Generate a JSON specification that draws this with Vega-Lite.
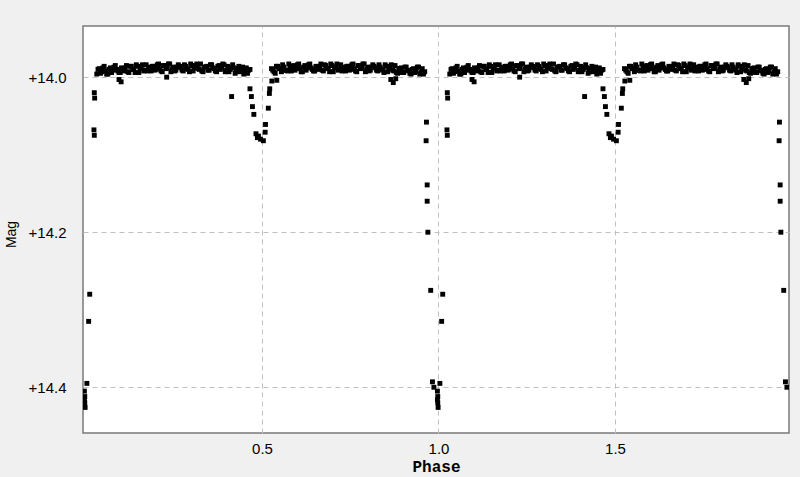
{
 "$schema": "https://vega.github.io/schema/vega-lite/v6.json",
 "width": 706, "height": 407,
 "autosize": {"type": "none"},
 "padding": {"left": 83, "top": 26, "right": 11, "bottom": 44},
 "background": "#f0f0f0",
 "config": {"view": {"fill": "white", "stroke": "#7a7a7a", "strokeWidth": 1.5}},
 "data": {"values": [
{"phase":0.032,"mag":13.996},{"phase":0.039,"mag":13.989},{"phase":0.046,"mag":13.993},{"phase":0.053,"mag":13.986},{"phase":0.060,"mag":13.996},{"phase":0.067,"mag":13.990},{"phase":0.074,"mag":13.994},{"phase":0.081,"mag":13.987},{"phase":0.088,"mag":13.990},{"phase":0.095,"mag":13.994},{"phase":0.102,"mag":13.988},{"phase":0.109,"mag":13.992},{"phase":0.116,"mag":13.985},{"phase":0.123,"mag":13.994},{"phase":0.130,"mag":13.986},{"phase":0.137,"mag":13.990},{"phase":0.144,"mag":13.984},{"phase":0.151,"mag":13.994},{"phase":0.158,"mag":13.988},{"phase":0.165,"mag":13.992},{"phase":0.172,"mag":13.984},{"phase":0.179,"mag":13.988},{"phase":0.186,"mag":13.992},{"phase":0.193,"mag":13.986},{"phase":0.200,"mag":13.990},{"phase":0.207,"mag":13.983},{"phase":0.214,"mag":13.992},{"phase":0.221,"mag":13.985},{"phase":0.228,"mag":13.989},{"phase":0.235,"mag":13.983},{"phase":0.242,"mag":13.993},{"phase":0.249,"mag":13.987},{"phase":0.256,"mag":13.991},{"phase":0.263,"mag":13.984},{"phase":0.270,"mag":13.988},{"phase":0.277,"mag":13.992},{"phase":0.284,"mag":13.986},{"phase":0.291,"mag":13.990},{"phase":0.298,"mag":13.983},{"phase":0.305,"mag":13.992},{"phase":0.312,"mag":13.985},{"phase":0.319,"mag":13.989},{"phase":0.326,"mag":13.983},{"phase":0.333,"mag":13.993},{"phase":0.340,"mag":13.987},{"phase":0.347,"mag":13.991},{"phase":0.354,"mag":13.984},{"phase":0.361,"mag":13.988},{"phase":0.368,"mag":13.992},{"phase":0.375,"mag":13.986},{"phase":0.382,"mag":13.990},{"phase":0.389,"mag":13.983},{"phase":0.396,"mag":13.993},{"phase":0.403,"mag":13.986},{"phase":0.410,"mag":13.990},{"phase":0.417,"mag":13.984},{"phase":0.424,"mag":13.995},{"phase":0.431,"mag":13.989},{"phase":0.438,"mag":13.993},{"phase":0.445,"mag":13.987},{"phase":0.452,"mag":13.991},{"phase":0.459,"mag":13.995},{"phase":0.466,"mag":13.990},
{"phase":0.0355,"mag":13.990},{"phase":0.0425,"mag":13.995},{"phase":0.0495,"mag":13.988},{"phase":0.0565,"mag":13.992},{"phase":0.0635,"mag":13.996},{"phase":0.0705,"mag":13.988},{"phase":0.0775,"mag":13.991},{"phase":0.0845,"mag":13.985},{"phase":0.0915,"mag":13.992},{"phase":0.0985,"mag":13.994},{"phase":0.1055,"mag":13.989},{"phase":0.1125,"mag":13.988},{"phase":0.1195,"mag":13.993},{"phase":0.1265,"mag":13.986},{"phase":0.1335,"mag":13.990},{"phase":0.1405,"mag":13.994},{"phase":0.1475,"mag":13.986},{"phase":0.1545,"mag":13.989},{"phase":0.1615,"mag":13.984},{"phase":0.1685,"mag":13.991},{"phase":0.1755,"mag":13.992},{"phase":0.1825,"mag":13.987},{"phase":0.1895,"mag":13.986},{"phase":0.1965,"mag":13.991},{"phase":0.2035,"mag":13.984},{"phase":0.2105,"mag":13.989},{"phase":0.2175,"mag":13.993},{"phase":0.2245,"mag":13.985},{"phase":0.2315,"mag":13.988},{"phase":0.2385,"mag":13.983},{"phase":0.2455,"mag":13.990},{"phase":0.2525,"mag":13.992},{"phase":0.2595,"mag":13.987},{"phase":0.2665,"mag":13.986},{"phase":0.2735,"mag":13.991},{"phase":0.2805,"mag":13.984},{"phase":0.2875,"mag":13.989},{"phase":0.2945,"mag":13.993},{"phase":0.3015,"mag":13.985},{"phase":0.3085,"mag":13.988},{"phase":0.3155,"mag":13.983},{"phase":0.3225,"mag":13.990},{"phase":0.3295,"mag":13.992},{"phase":0.3365,"mag":13.987},{"phase":0.3435,"mag":13.986},{"phase":0.3505,"mag":13.991},{"phase":0.3575,"mag":13.984},{"phase":0.3645,"mag":13.989},{"phase":0.3715,"mag":13.993},{"phase":0.3785,"mag":13.985},{"phase":0.3855,"mag":13.988},{"phase":0.3925,"mag":13.984},{"phase":0.3995,"mag":13.991},{"phase":0.4065,"mag":13.993},{"phase":0.4135,"mag":13.988},{"phase":0.4205,"mag":13.988},{"phase":0.4275,"mag":13.993},{"phase":0.4345,"mag":13.986},{"phase":0.4415,"mag":13.991},{"phase":0.4485,"mag":13.996},{"phase":0.4555,"mag":13.988},{"phase":0.4625,"mag":13.991},
{"phase":0.527,"mag":13.989},{"phase":0.534,"mag":13.993},{"phase":0.541,"mag":13.986},{"phase":0.548,"mag":13.989},{"phase":0.555,"mag":13.993},{"phase":0.562,"mag":13.987},{"phase":0.569,"mag":13.991},{"phase":0.576,"mag":13.983},{"phase":0.583,"mag":13.992},{"phase":0.590,"mag":13.985},{"phase":0.597,"mag":13.989},{"phase":0.604,"mag":13.983},{"phase":0.611,"mag":13.993},{"phase":0.618,"mag":13.987},{"phase":0.625,"mag":13.991},{"phase":0.632,"mag":13.984},{"phase":0.639,"mag":13.988},{"phase":0.646,"mag":13.992},{"phase":0.653,"mag":13.986},{"phase":0.660,"mag":13.990},{"phase":0.667,"mag":13.983},{"phase":0.674,"mag":13.992},{"phase":0.681,"mag":13.985},{"phase":0.688,"mag":13.989},{"phase":0.695,"mag":13.983},{"phase":0.702,"mag":13.993},{"phase":0.709,"mag":13.987},{"phase":0.716,"mag":13.991},{"phase":0.723,"mag":13.984},{"phase":0.730,"mag":13.988},{"phase":0.737,"mag":13.992},{"phase":0.744,"mag":13.986},{"phase":0.751,"mag":13.990},{"phase":0.758,"mag":13.983},{"phase":0.765,"mag":13.992},{"phase":0.772,"mag":13.985},{"phase":0.779,"mag":13.989},{"phase":0.786,"mag":13.983},{"phase":0.793,"mag":13.993},{"phase":0.800,"mag":13.987},{"phase":0.807,"mag":13.991},{"phase":0.814,"mag":13.984},{"phase":0.821,"mag":13.988},{"phase":0.828,"mag":13.992},{"phase":0.835,"mag":13.987},{"phase":0.842,"mag":13.991},{"phase":0.849,"mag":13.984},{"phase":0.856,"mag":13.993},{"phase":0.863,"mag":13.986},{"phase":0.870,"mag":13.991},{"phase":0.877,"mag":13.985},{"phase":0.884,"mag":13.995},{"phase":0.891,"mag":13.989},{"phase":0.898,"mag":13.994},{"phase":0.905,"mag":13.987},{"phase":0.912,"mag":13.991},{"phase":0.919,"mag":13.995},{"phase":0.926,"mag":13.990},{"phase":0.933,"mag":13.994},{"phase":0.940,"mag":13.987},{"phase":0.947,"mag":13.996},{"phase":0.954,"mag":13.989},{"phase":0.961,"mag":13.993},
{"phase":0.5305,"mag":13.991},{"phase":0.5375,"mag":13.995},{"phase":0.5445,"mag":13.986},{"phase":0.5515,"mag":13.989},{"phase":0.5585,"mag":13.984},{"phase":0.5655,"mag":13.991},{"phase":0.5725,"mag":13.992},{"phase":0.5795,"mag":13.987},{"phase":0.5865,"mag":13.986},{"phase":0.5935,"mag":13.991},{"phase":0.6005,"mag":13.984},{"phase":0.6075,"mag":13.989},{"phase":0.6145,"mag":13.993},{"phase":0.6215,"mag":13.985},{"phase":0.6285,"mag":13.988},{"phase":0.6355,"mag":13.983},{"phase":0.6425,"mag":13.990},{"phase":0.6495,"mag":13.992},{"phase":0.6565,"mag":13.987},{"phase":0.6635,"mag":13.986},{"phase":0.6705,"mag":13.991},{"phase":0.6775,"mag":13.984},{"phase":0.6845,"mag":13.989},{"phase":0.6915,"mag":13.993},{"phase":0.6985,"mag":13.985},{"phase":0.7055,"mag":13.988},{"phase":0.7125,"mag":13.983},{"phase":0.7195,"mag":13.990},{"phase":0.7265,"mag":13.992},{"phase":0.7335,"mag":13.987},{"phase":0.7405,"mag":13.986},{"phase":0.7475,"mag":13.991},{"phase":0.7545,"mag":13.984},{"phase":0.7615,"mag":13.989},{"phase":0.7685,"mag":13.993},{"phase":0.7755,"mag":13.985},{"phase":0.7825,"mag":13.988},{"phase":0.7895,"mag":13.983},{"phase":0.7965,"mag":13.990},{"phase":0.8035,"mag":13.992},{"phase":0.8105,"mag":13.987},{"phase":0.8175,"mag":13.986},{"phase":0.8245,"mag":13.991},{"phase":0.8315,"mag":13.984},{"phase":0.8385,"mag":13.990},{"phase":0.8455,"mag":13.994},{"phase":0.8525,"mag":13.986},{"phase":0.8595,"mag":13.989},{"phase":0.8665,"mag":13.984},{"phase":0.8735,"mag":13.992},{"phase":0.8805,"mag":13.994},{"phase":0.8875,"mag":13.989},{"phase":0.8945,"mag":13.988},{"phase":0.9015,"mag":13.994},{"phase":0.9085,"mag":13.987},{"phase":0.9155,"mag":13.992},{"phase":0.9225,"mag":13.996},{"phase":0.9295,"mag":13.989},{"phase":0.9365,"mag":13.992},{"phase":0.9435,"mag":13.987},{"phase":0.9505,"mag":13.994},{"phase":0.9575,"mag":13.996},
{"phase":0.095,"mag":14.003},{"phase":0.101,"mag":14.006},{"phase":0.230,"mag":14.000},{"phase":0.414,"mag":14.025},{"phase":0.865,"mag":14.003},{"phase":0.872,"mag":14.007},{"phase":0.879,"mag":14.002},
{"phase":0.466,"mag":14.015},{"phase":0.470,"mag":14.025},{"phase":0.473,"mag":14.038},{"phase":0.477,"mag":14.048},{"phase":0.483,"mag":14.073},{"phase":0.487,"mag":14.078},{"phase":0.490,"mag":14.076},{"phase":0.496,"mag":14.080},{"phase":0.504,"mag":14.082},{"phase":0.509,"mag":14.071},{"phase":0.510,"mag":14.061},{"phase":0.518,"mag":14.040},{"phase":0.521,"mag":14.021},{"phase":0.522,"mag":14.015},{"phase":0.528,"mag":14.005},{"phase":0.542,"mag":14.004},
{"phase":0.965,"mag":14.082},{"phase":0.966,"mag":14.058},{"phase":0.968,"mag":14.139},{"phase":0.968,"mag":14.160},{"phase":0.970,"mag":14.200},{"phase":0.978,"mag":14.275},{"phase":0.983,"mag":14.393},{"phase":0.987,"mag":14.400},
{"phase":-0.003,"mag":14.405},{"phase":-0.002,"mag":14.412},{"phase":-0.002,"mag":14.420},{"phase":-0.001,"mag":14.426},{"phase":-0.003,"mag":14.416},
{"phase":0.004,"mag":14.395},{"phase":0.009,"mag":14.315},{"phase":0.012,"mag":14.280},{"phase":0.024,"mag":14.068},{"phase":0.025,"mag":14.075},{"phase":0.025,"mag":14.020},{"phase":0.026,"mag":14.027},
{"phase":1.032,"mag":13.996},{"phase":1.039,"mag":13.989},{"phase":1.046,"mag":13.993},{"phase":1.053,"mag":13.986},{"phase":1.060,"mag":13.996},{"phase":1.067,"mag":13.990},{"phase":1.074,"mag":13.994},{"phase":1.081,"mag":13.987},{"phase":1.088,"mag":13.990},{"phase":1.095,"mag":13.994},{"phase":1.102,"mag":13.988},{"phase":1.109,"mag":13.992},{"phase":1.116,"mag":13.985},{"phase":1.123,"mag":13.994},{"phase":1.130,"mag":13.986},{"phase":1.137,"mag":13.990},{"phase":1.144,"mag":13.984},{"phase":1.151,"mag":13.994},{"phase":1.158,"mag":13.988},{"phase":1.165,"mag":13.992},{"phase":1.172,"mag":13.984},{"phase":1.179,"mag":13.988},{"phase":1.186,"mag":13.992},{"phase":1.193,"mag":13.986},{"phase":1.200,"mag":13.990},{"phase":1.207,"mag":13.983},{"phase":1.214,"mag":13.992},{"phase":1.221,"mag":13.985},{"phase":1.228,"mag":13.989},{"phase":1.235,"mag":13.983},{"phase":1.242,"mag":13.993},{"phase":1.249,"mag":13.987},{"phase":1.256,"mag":13.991},{"phase":1.263,"mag":13.984},{"phase":1.270,"mag":13.988},{"phase":1.277,"mag":13.992},{"phase":1.284,"mag":13.986},{"phase":1.291,"mag":13.990},{"phase":1.298,"mag":13.983},{"phase":1.305,"mag":13.992},{"phase":1.312,"mag":13.985},{"phase":1.319,"mag":13.989},{"phase":1.326,"mag":13.983},{"phase":1.333,"mag":13.993},{"phase":1.340,"mag":13.987},{"phase":1.347,"mag":13.991},{"phase":1.354,"mag":13.984},{"phase":1.361,"mag":13.988},{"phase":1.368,"mag":13.992},{"phase":1.375,"mag":13.986},{"phase":1.382,"mag":13.990},{"phase":1.389,"mag":13.983},{"phase":1.396,"mag":13.993},{"phase":1.403,"mag":13.986},{"phase":1.410,"mag":13.990},{"phase":1.417,"mag":13.984},{"phase":1.424,"mag":13.995},{"phase":1.431,"mag":13.989},{"phase":1.438,"mag":13.993},{"phase":1.445,"mag":13.987},{"phase":1.452,"mag":13.991},{"phase":1.459,"mag":13.995},{"phase":1.466,"mag":13.990},
{"phase":1.0355,"mag":13.990},{"phase":1.0425,"mag":13.995},{"phase":1.0495,"mag":13.988},{"phase":1.0565,"mag":13.992},{"phase":1.0635,"mag":13.996},{"phase":1.0705,"mag":13.988},{"phase":1.0775,"mag":13.991},{"phase":1.0845,"mag":13.985},{"phase":1.0915,"mag":13.992},{"phase":1.0985,"mag":13.994},{"phase":1.1055,"mag":13.989},{"phase":1.1125,"mag":13.988},{"phase":1.1195,"mag":13.993},{"phase":1.1265,"mag":13.986},{"phase":1.1335,"mag":13.990},{"phase":1.1405,"mag":13.994},{"phase":1.1475,"mag":13.986},{"phase":1.1545,"mag":13.989},{"phase":1.1615,"mag":13.984},{"phase":1.1685,"mag":13.991},{"phase":1.1755,"mag":13.992},{"phase":1.1825,"mag":13.987},{"phase":1.1895,"mag":13.986},{"phase":1.1965,"mag":13.991},{"phase":1.2035,"mag":13.984},{"phase":1.2105,"mag":13.989},{"phase":1.2175,"mag":13.993},{"phase":1.2245,"mag":13.985},{"phase":1.2315,"mag":13.988},{"phase":1.2385,"mag":13.983},{"phase":1.2455,"mag":13.990},{"phase":1.2525,"mag":13.992},{"phase":1.2595,"mag":13.987},{"phase":1.2665,"mag":13.986},{"phase":1.2735,"mag":13.991},{"phase":1.2805,"mag":13.984},{"phase":1.2875,"mag":13.989},{"phase":1.2945,"mag":13.993},{"phase":1.3015,"mag":13.985},{"phase":1.3085,"mag":13.988},{"phase":1.3155,"mag":13.983},{"phase":1.3225,"mag":13.990},{"phase":1.3295,"mag":13.992},{"phase":1.3365,"mag":13.987},{"phase":1.3435,"mag":13.986},{"phase":1.3505,"mag":13.991},{"phase":1.3575,"mag":13.984},{"phase":1.3645,"mag":13.989},{"phase":1.3715,"mag":13.993},{"phase":1.3785,"mag":13.985},{"phase":1.3855,"mag":13.988},{"phase":1.3925,"mag":13.984},{"phase":1.3995,"mag":13.991},{"phase":1.4065,"mag":13.993},{"phase":1.4135,"mag":13.988},{"phase":1.4205,"mag":13.988},{"phase":1.4275,"mag":13.993},{"phase":1.4345,"mag":13.986},{"phase":1.4415,"mag":13.991},{"phase":1.4485,"mag":13.996},{"phase":1.4555,"mag":13.988},{"phase":1.4625,"mag":13.991},
{"phase":1.527,"mag":13.989},{"phase":1.534,"mag":13.993},{"phase":1.541,"mag":13.986},{"phase":1.548,"mag":13.989},{"phase":1.555,"mag":13.993},{"phase":1.562,"mag":13.987},{"phase":1.569,"mag":13.991},{"phase":1.576,"mag":13.983},{"phase":1.583,"mag":13.992},{"phase":1.590,"mag":13.985},{"phase":1.597,"mag":13.989},{"phase":1.604,"mag":13.983},{"phase":1.611,"mag":13.993},{"phase":1.618,"mag":13.987},{"phase":1.625,"mag":13.991},{"phase":1.632,"mag":13.984},{"phase":1.639,"mag":13.988},{"phase":1.646,"mag":13.992},{"phase":1.653,"mag":13.986},{"phase":1.660,"mag":13.990},{"phase":1.667,"mag":13.983},{"phase":1.674,"mag":13.992},{"phase":1.681,"mag":13.985},{"phase":1.688,"mag":13.989},{"phase":1.695,"mag":13.983},{"phase":1.702,"mag":13.993},{"phase":1.709,"mag":13.987},{"phase":1.716,"mag":13.991},{"phase":1.723,"mag":13.984},{"phase":1.730,"mag":13.988},{"phase":1.737,"mag":13.992},{"phase":1.744,"mag":13.986},{"phase":1.751,"mag":13.990},{"phase":1.758,"mag":13.983},{"phase":1.765,"mag":13.992},{"phase":1.772,"mag":13.985},{"phase":1.779,"mag":13.989},{"phase":1.786,"mag":13.983},{"phase":1.793,"mag":13.993},{"phase":1.800,"mag":13.987},{"phase":1.807,"mag":13.991},{"phase":1.814,"mag":13.984},{"phase":1.821,"mag":13.988},{"phase":1.828,"mag":13.992},{"phase":1.835,"mag":13.987},{"phase":1.842,"mag":13.991},{"phase":1.849,"mag":13.984},{"phase":1.856,"mag":13.993},{"phase":1.863,"mag":13.986},{"phase":1.870,"mag":13.991},{"phase":1.877,"mag":13.985},{"phase":1.884,"mag":13.995},{"phase":1.891,"mag":13.989},{"phase":1.898,"mag":13.994},{"phase":1.905,"mag":13.987},{"phase":1.912,"mag":13.991},{"phase":1.919,"mag":13.995},{"phase":1.926,"mag":13.990},{"phase":1.933,"mag":13.994},{"phase":1.940,"mag":13.987},{"phase":1.947,"mag":13.996},{"phase":1.954,"mag":13.989},{"phase":1.961,"mag":13.993},
{"phase":1.5305,"mag":13.991},{"phase":1.5375,"mag":13.995},{"phase":1.5445,"mag":13.986},{"phase":1.5515,"mag":13.989},{"phase":1.5585,"mag":13.984},{"phase":1.5655,"mag":13.991},{"phase":1.5725,"mag":13.992},{"phase":1.5795,"mag":13.987},{"phase":1.5865,"mag":13.986},{"phase":1.5935,"mag":13.991},{"phase":1.6005,"mag":13.984},{"phase":1.6075,"mag":13.989},{"phase":1.6145,"mag":13.993},{"phase":1.6215,"mag":13.985},{"phase":1.6285,"mag":13.988},{"phase":1.6355,"mag":13.983},{"phase":1.6425,"mag":13.990},{"phase":1.6495,"mag":13.992},{"phase":1.6565,"mag":13.987},{"phase":1.6635,"mag":13.986},{"phase":1.6705,"mag":13.991},{"phase":1.6775,"mag":13.984},{"phase":1.6845,"mag":13.989},{"phase":1.6915,"mag":13.993},{"phase":1.6985,"mag":13.985},{"phase":1.7055,"mag":13.988},{"phase":1.7125,"mag":13.983},{"phase":1.7195,"mag":13.990},{"phase":1.7265,"mag":13.992},{"phase":1.7335,"mag":13.987},{"phase":1.7405,"mag":13.986},{"phase":1.7475,"mag":13.991},{"phase":1.7545,"mag":13.984},{"phase":1.7615,"mag":13.989},{"phase":1.7685,"mag":13.993},{"phase":1.7755,"mag":13.985},{"phase":1.7825,"mag":13.988},{"phase":1.7895,"mag":13.983},{"phase":1.7965,"mag":13.990},{"phase":1.8035,"mag":13.992},{"phase":1.8105,"mag":13.987},{"phase":1.8175,"mag":13.986},{"phase":1.8245,"mag":13.991},{"phase":1.8315,"mag":13.984},{"phase":1.8385,"mag":13.990},{"phase":1.8455,"mag":13.994},{"phase":1.8525,"mag":13.986},{"phase":1.8595,"mag":13.989},{"phase":1.8665,"mag":13.984},{"phase":1.8735,"mag":13.992},{"phase":1.8805,"mag":13.994},{"phase":1.8875,"mag":13.989},{"phase":1.8945,"mag":13.988},{"phase":1.9015,"mag":13.994},{"phase":1.9085,"mag":13.987},{"phase":1.9155,"mag":13.992},{"phase":1.9225,"mag":13.996},{"phase":1.9295,"mag":13.989},{"phase":1.9365,"mag":13.992},{"phase":1.9435,"mag":13.987},{"phase":1.9505,"mag":13.994},{"phase":1.9575,"mag":13.996},
{"phase":1.095,"mag":14.003},{"phase":1.101,"mag":14.006},{"phase":1.230,"mag":14.000},{"phase":1.414,"mag":14.025},{"phase":1.865,"mag":14.003},{"phase":1.872,"mag":14.007},{"phase":1.879,"mag":14.002},
{"phase":1.466,"mag":14.015},{"phase":1.470,"mag":14.025},{"phase":1.473,"mag":14.038},{"phase":1.477,"mag":14.048},{"phase":1.483,"mag":14.073},{"phase":1.487,"mag":14.078},{"phase":1.490,"mag":14.076},{"phase":1.496,"mag":14.080},{"phase":1.504,"mag":14.082},{"phase":1.509,"mag":14.071},{"phase":1.510,"mag":14.061},{"phase":1.518,"mag":14.040},{"phase":1.521,"mag":14.021},{"phase":1.522,"mag":14.015},{"phase":1.528,"mag":14.005},{"phase":1.542,"mag":14.004},
{"phase":1.965,"mag":14.082},{"phase":1.966,"mag":14.058},{"phase":1.968,"mag":14.139},{"phase":1.968,"mag":14.160},{"phase":1.970,"mag":14.200},{"phase":1.978,"mag":14.275},{"phase":1.983,"mag":14.393},{"phase":1.987,"mag":14.400},
{"phase":0.997,"mag":14.405},{"phase":0.998,"mag":14.412},{"phase":0.998,"mag":14.420},{"phase":0.999,"mag":14.426},{"phase":0.997,"mag":14.416},
{"phase":1.004,"mag":14.395},{"phase":1.009,"mag":14.315},{"phase":1.012,"mag":14.280},{"phase":1.024,"mag":14.068},{"phase":1.025,"mag":14.075},{"phase":1.025,"mag":14.020},{"phase":1.026,"mag":14.027}
 ]},
 "mark": {"type": "square", "size": 24, "color": "black", "opacity": 1, "clip": true},
 "encoding": {
  "x": {"field": "phase", "type": "quantitative",
   "scale": {"domain": [-0.007, 1.993], "nice": false, "zero": false},
   "axis": {"values": [0.5, 1.0, 1.5], "format": ".1f", "ticks": false, "domain": false,
    "grid": true, "gridColor": "#c0c0c0", "gridDash": [5, 4], "gridWidth": 1,
    "labelFont": "Liberation Sans", "labelFontSize": 15, "labelColor": "#000000", "labelPadding": 8,
    "title": "Phase", "titleFont": "Liberation Mono", "titleFontSize": 16, "titleFontWeight": "bold", "titleColor": "#000000",
    "titleX": 353, "titleY": 38, "titleBaseline": "alphabetic", "titleAlign": "center"}},
  "y": {"field": "mag", "type": "quantitative",
   "scale": {"domain": [13.934, 14.459], "reverse": true, "nice": false, "zero": false},
   "axis": {"values": [14.0, 14.2, 14.4], "labelExpr": "'+' + format(datum.value, '.1f')", "ticks": false, "domain": false,
    "grid": true, "gridColor": "#c0c0c0", "gridDash": [5, 4], "gridWidth": 1,
    "labelFont": "Liberation Sans", "labelFontSize": 15, "labelColor": "#000000", "labelPadding": 17,
    "title": "Mag", "titleFont": "Liberation Sans", "titleFontSize": 14, "titleFontWeight": "normal", "titleColor": "#000000",
    "titleAngle": -90, "titleX": -68, "titleY": 208, "titleBaseline": "alphabetic", "titleAlign": "center"}}
 }
}
